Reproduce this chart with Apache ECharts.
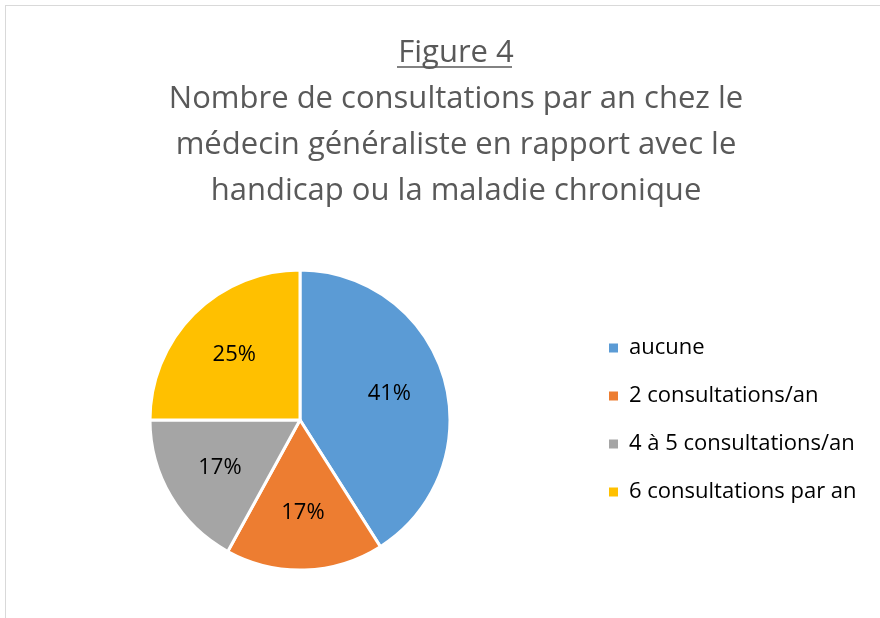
<!DOCTYPE html>
<html><head><meta charset="utf-8">
<script src="https://cdn.jsdelivr.net/npm/echarts@6/dist/echarts.min.js"></script>
<style>html,body{margin:0;padding:0;background:#fff;}#frame{position:absolute;left:5px;top:5px;width:900px;height:640px;border:1px solid #d9d9d9;}#c{position:absolute;left:0;top:0;width:880px;height:618px;}</style>
</head><body><div id="frame"></div><div id="c"></div>
<script>
var titleLines = ["Figure 4", "Nombre de consultations par an chez le", "médecin généraliste en rapport avec le", "handicap ou la maladie chronique"];
var categories = ["aucune", "2 consultations/an", "4 à 5 consultations/an", "6 consultations par an"];
var values = [41, 17, 17, 25];
var colors = ["#5b9bd5", "#ed7d31", "#a5a5a5", "#ffc000"];
var FONT = "'Open Sans', sans-serif";
var chart = echarts.init(document.getElementById('c'));
chart.setOption({
  animation: false,
  title: {
    text: titleLines.join('\n'),
    left: 451, top: 25, textAlign: 'center',
    textStyle: {fontFamily: FONT, fontSize: 31, fontWeight: 'normal', color: '#595959', lineHeight: 46}
  },
  graphic: [{type: 'line', shape: {x1: 397, y1: 67, x2: 512, y2: 67}, style: {stroke: '#595959', lineWidth: 1.5}}],
  legend: {
    orient: 'vertical', left: 602, top: 332, itemWidth: 11, itemHeight: 11, itemGap: 26, icon: 'rect',
    data: categories,
    textStyle: {fontFamily: FONT, fontSize: 22, color: '#000', padding: [0, 0, 0, 5]}
  },
  series: [{
    type: 'pie', center: [300, 420], radius: 150, startAngle: 90, clockwise: true,
    itemStyle: {borderColor: '#fff', borderWidth: 3},
    label: {show: false}, labelLine: {show: false}, emphasis: {disabled: true},
    data: categories.map(function(n, i){ return {name: n, value: values[i], itemStyle: {color: colors[i]}}; })
  }, {
    type: 'pie', center: [300, 420], radius: [30, 150], startAngle: 90, clockwise: true, silent: true,
    itemStyle: {color: 'rgba(0,0,0,0)', borderWidth: 0},
    label: {show: true, position: 'inside', formatter: '{c}%', fontFamily: FONT, fontSize: 22, color: '#000'},
    labelLine: {show: false},
    data: categories.map(function(n, i){ return {name: n, value: values[i]}; })
  }]
});
</script></body></html>
